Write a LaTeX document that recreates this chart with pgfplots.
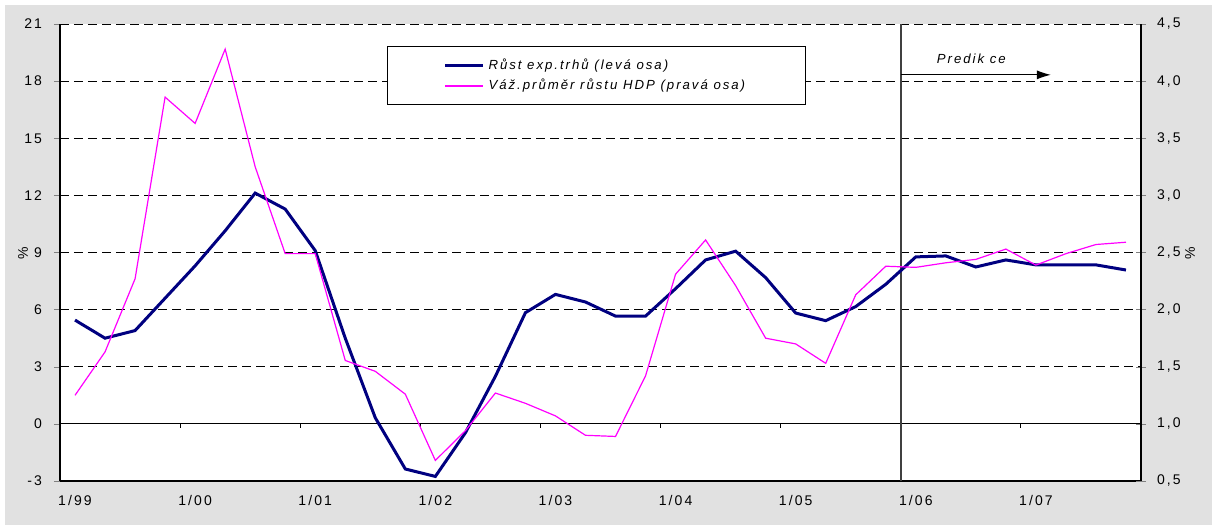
\documentclass[border=0pt]{standalone}
\usepackage{pgfplots}
\pgfplotsset{compat=1.18}
\usepackage{pgfplotstable}
\usetikzlibrary{arrows.meta}
\usepackage{fontspec}
\setmainfont{Liberation Sans}
\newfontfamily\lsfont[LetterSpace=15]{Liberation Sans}
\definecolor{bggray}{HTML}{E1E1E1}
\definecolor{navy}{HTML}{000080}
\definecolor{mag}{HTML}{FF00FF}
\pgfplotstableread{
i v
0 5.45
1 4.5
2 4.9
3 6.6
4 8.3
5 10.14
6 12.12
7 11.28
8 9.1
9 4.5
10 0.32
11 -2.37
12 -2.76
13 -0.47
14 2.5
15 5.84
16 6.8
17 6.4
18 5.66
19 5.66
20 7.1
21 8.61
22 9.07
23 7.68
24 5.82
25 5.42
26 6.16
27 7.33
28 8.77
29 8.82
30 8.24
31 8.61
32 8.35
33 8.35
34 8.35
35 8.08
}\tblExp
\pgfplotstableread{
i v
0 1.25
1 1.63
2 2.27
3 3.86
4 3.63
5 4.28
6 3.25
7 2.49
8 2.49
9 1.555
10 1.46
11 1.26
12 0.68
13 0.94
14 1.27
15 1.18
16 1.07
17 0.90
18 0.89
19 1.42
20 2.31
21 2.61
22 2.21
23 1.75
24 1.70
25 1.53
26 2.13
27 2.38
28 2.37
29 2.41
30 2.44
31 2.53
32 2.39
33 2.49
34 2.57
35 2.59
}\tblHdp
\begin{document}
\begin{tikzpicture}
\path[use as bounding box] (0pt,0pt) rectangle (606pt,-262.5pt);
\fill[white] (0pt,0pt) rectangle (606pt,-262.5pt);
\fill[bggray] (2.5pt,-2.5pt) rectangle (606pt,-262.5pt);
\begin{axis}[
  at={(30pt,-240.5pt)}, anchor=south west,
  scale only axis, width=540.5pt, height=228.5pt,
  xmin=-0.5, xmax=35.5, ymin=-3, ymax=21,
  axis background/.style={fill=white},
  axis x line*=bottom, axis y line*=left,
  axis line style={line width=0.6pt},
  xtick={0,4,...,32},
  xticklabels={1/99,1/00,1/01,1/02,1/03,1/04,1/05,1/06,1/07},
  major x tick style={draw=none},
  xticklabel style={font=\lsfont\fontsize{7}{8}\selectfont, yshift=-0.5pt},
  ytick={-3,0,...,21},
  yticklabel style={font=\lsfont\fontsize{7}{8}\selectfont, xshift=-2.5pt},
  /pgf/number format/assume math mode=true,
  tick align=outside, major tick length=3pt,
  ymajorgrids,
  grid style={black, dash pattern=on 4.5pt off 2.5pt, line width=0.5pt},
  legend style={at={(0.3025,0.952)}, anchor=north west, draw=black, fill=white,
    line width=0.5pt, inner xsep=28pt, inner ysep=4pt, row sep=-0.5pt,
    font=\lsfont\itshape\fontsize{6.6}{7.5}\selectfont},
  legend cell align=left,
  legend image code/.code={\draw[#1] (0pt,0pt) -- (19pt,0pt);},
]
\draw[black, line width=0.6pt] (axis cs:-0.5,0) -- (axis cs:35.5,0);
\pgfplotsinvokeforeach{3.5,7.5,11.5,15.5,19.5,23.5,31.5}{\draw[black,line width=0.5pt] (axis cs:#1,0) -- ++(0pt,-2pt);}
\draw[black!75, line width=0.8pt] (axis cs:27.5,-3) -- (axis cs:27.5,21);
\draw[black, line width=0.5pt, -{Latex[length=7pt,width=4.5pt]}] (axis cs:27.5,18.33) -- (axis cs:32.5,18.33);
\node[font=\lsfont\itshape\fontsize{6.6}{7.5}\selectfont] at (axis cs:29.85,19.15) {Predik ce};
\addplot[navy, line width=1.5pt] table[x=i,y=v] {\tblExp};
\addlegendentry{Růst exp.trhů (levá osa)}
\addlegendimage{mag, line width=0.6pt}
\addlegendentry{Váž.průměr růstu HDP (pravá osa)}
\end{axis}
\begin{axis}[
  at={(30pt,-240.5pt)}, anchor=south west,
  scale only axis, width=540.5pt, height=228.5pt,
  xmin=-0.5, xmax=35.5, ymin=0.5, ymax=4.5,
  axis x line=none, axis y line*=right,
  axis line style={line width=0.6pt},
  ytick={0.5,1,...,4.5},
  yticklabel style={font=\lsfont\fontsize{7}{8}\selectfont, xshift=2pt,
    /pgf/number format/.cd, fixed, fixed zerofill, precision=1, use comma},
  /pgf/number format/assume math mode=true,
  tick align=center, major tick length=5pt,
]
\addplot[mag, line width=0.6pt] table[x=i,y=v] {\tblHdp};
\end{axis}
\node[rotate=90, font=\lsfont\fontsize{7}{8}\selectfont] at (11.5pt,-126.5pt) {\%};
\node[rotate=90, font=\lsfont\fontsize{7}{8}\selectfont] at (595pt,-126.5pt) {\%};
\end{tikzpicture}
\end{document}
